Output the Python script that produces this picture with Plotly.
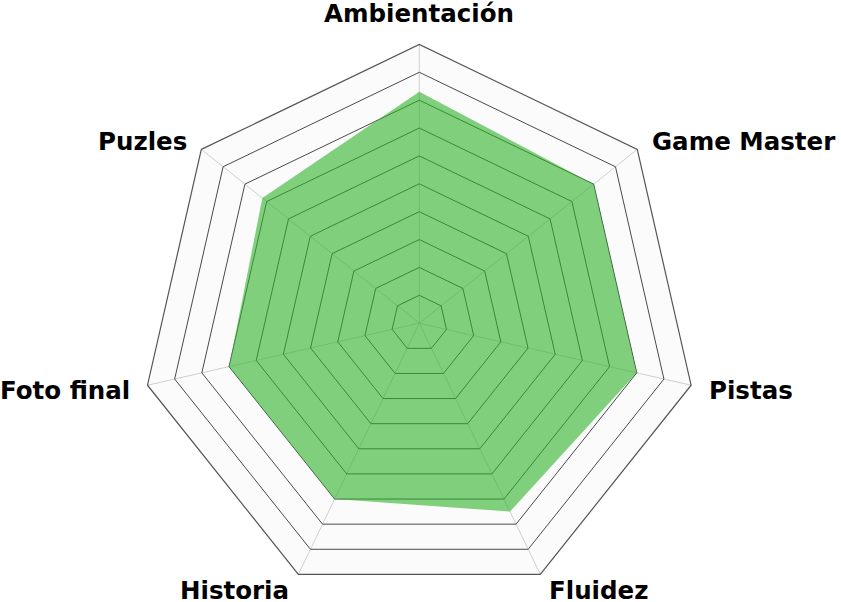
import math
import plotly.graph_objects as go

categories = ["Ambientación", "Game Master", "Pistas", "Fluidez", "Historia", "Foto final", "Puzles"]
scores = [8.3, 8.0, 8.0, 7.5, 7.0, 7.0, 7.2]
max_score = 10

W, H = 841, 602
cx, cy, R = 419.3, 325.0, 280.6
NAME_GAP = 14

FILL = "rgba(45,178,40,0.6)"

fig = go.Figure()
fig.add_trace(go.Scatterpolar(
    r=scores + [scores[0]],
    theta=categories + [categories[0]],
    mode="lines",
    line=dict(width=0, color=FILL),
    fill="toself",
    fillcolor=FILL,
    hoverinfo="skip",
    showlegend=False,
))

# axis name labels placed just outside the outer polygon
annotations = []
n = len(categories)
for i, name in enumerate(categories):
    ang = 2 * math.pi * i / n
    ux, uy = math.sin(ang), -math.cos(ang)
    px = cx + (R + NAME_GAP) * ux
    py = cy + (R + NAME_GAP) * uy
    if ux > 0.01:
        xa = "left"
    elif ux < -0.01:
        xa = "right"
    else:
        xa = "center"
    ya = "bottom" if abs(ux) < 0.01 and uy < 0 else "middle"
    annotations.append(dict(
        x=px / W, y=1 - py / H, xref="paper", yref="paper",
        text=name, showarrow=False, xanchor=xa, yanchor=ya,
        font=dict(family="DejaVu Sans", size=24.5, color="black", weight="bold"),
    ))

y_center = H - cy
y_lo = max(0.0, (y_center - R) / H)
fig.update_layout(
    width=W, height=H,
    margin=dict(l=0, r=0, t=0, b=0),
    paper_bgcolor="white",
    showlegend=False,
    annotations=annotations,
    polar=dict(
        domain=dict(x=[(cx - R) / W, (cx + R) / W],
                    y=[y_lo, (y_center + R) / H]),
        gridshape="linear",
        bgcolor="#fbfbfb",
        radialaxis=dict(
            range=[0, max_score], dtick=1, showticklabels=False, ticks="",
            showline=False, gridcolor="#4a4a4a", gridwidth=1.2, layer="below traces",
        ),
        angularaxis=dict(
            rotation=90, direction="clockwise", ticks="", showticklabels=False,
            showline=True, linecolor="#555555", linewidth=1.2,
            gridcolor="#cfcfcf", gridwidth=1, layer="below traces",
        ),
    ),
)
fig.write_html("out.html", config={"displayModeBar": False},
               post_script="document.body.style.margin='0px';")
